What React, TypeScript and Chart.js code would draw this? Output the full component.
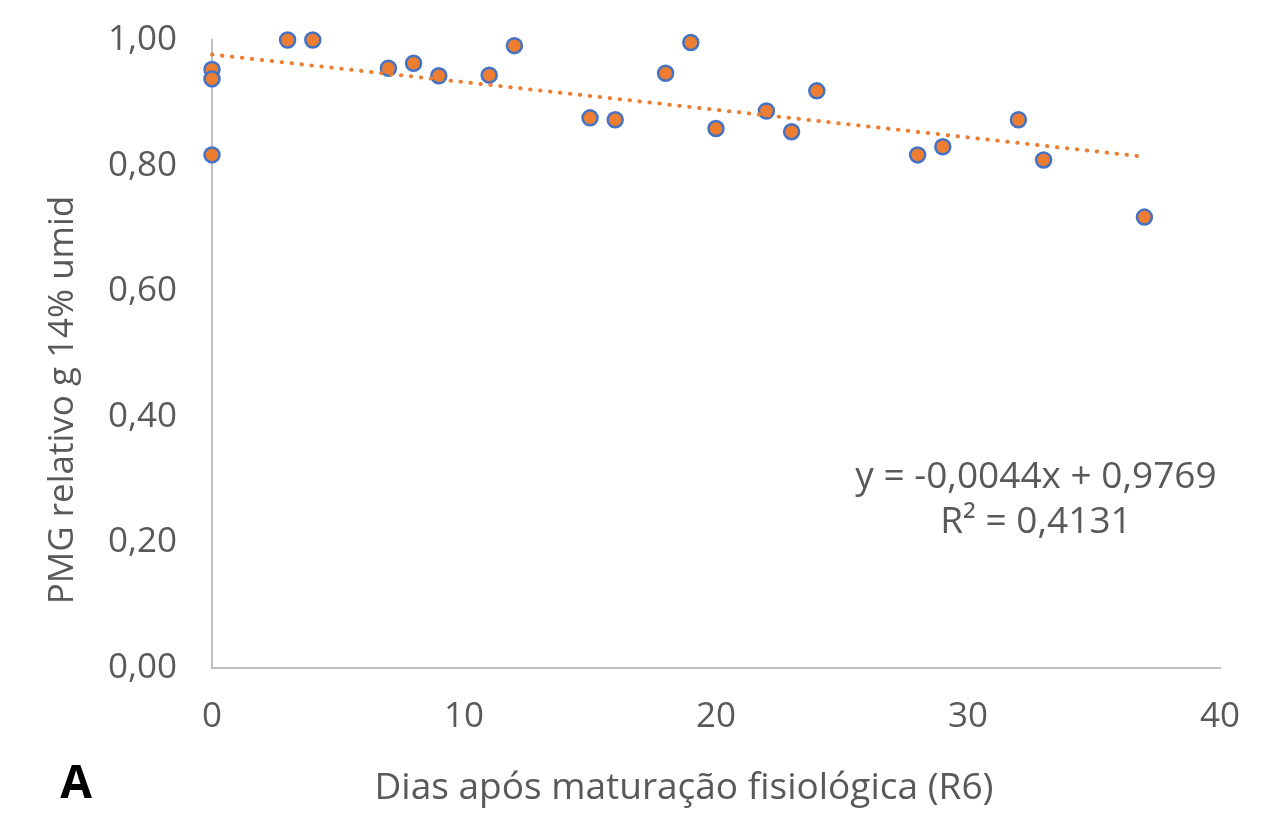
import React, { useEffect, useRef } from "react";
import Chart from "chart.js/auto";

// PMG relativo vs dias após maturação fisiológica (R6), with linear trendline

const dias = [0, 0, 0, 3, 4, 7, 8, 9, 11, 12, 15, 16, 18, 19, 20, 22, 23, 24, 28, 29, 32, 33, 37];
const pmg = [
  0.953, 0.938, 0.817, 1.0, 1.0, 0.955, 0.963, 0.943, 0.944, 0.991, 0.876, 0.873,
  0.947, 0.996, 0.859, 0.887, 0.854, 0.919, 0.817, 0.83, 0.873, 0.809, 0.718,
];

// trendline endpoints (y = -0,0044x + 0,9769)
const trendX = [0, 37];
const trendY = [0.9769, 0.8141];

const equationLines = ["y = -0,0044x + 0,9769", "R² = 0,4131"];
const xTitle = "Dias após maturação fisiológica (R6)";
const yTitle = "PMG relativo g 14% umid";
const panelLabel = "A";

const FONT = "'Open Sans', 'Noto Sans', sans-serif";
const TEXT = "#595959";

export default function App() {
  const canvasRef = useRef<HTMLCanvasElement>(null);
  const chartRef = useRef<Chart | null>(null);

  // plugin: axis titles, equation label and panel letter
  const labelsPlugin = {
    id: "labelsPlugin",
    afterDraw(chart: Chart) {
      const { ctx } = chart;
      ctx.save();
      ctx.fillStyle = TEXT;
      ctx.textBaseline = "alphabetic";
      ctx.textAlign = "center";

      // y title
      ctx.save();
      ctx.translate(73, 400);
      ctx.rotate(-Math.PI / 2);
      ctx.font = `35px ${FONT}`;
      ctx.fillText(yTitle, 0, 0);
      ctx.restore();

      // x title
      ctx.font = `37px ${FONT}`;
      ctx.fillText(xTitle, 684, 799);

      // equation
      ctx.font = `37px ${FONT}`;
      ctx.fillText(equationLines[0], 1036, 488);
      ctx.fillText(equationLines[1], 1036, 533);

      // panel letter
      ctx.fillStyle = "#000";
      ctx.font = `bold 46px ${FONT}`;
      ctx.fillText(panelLabel, 76, 798);
      ctx.restore();
    },
  };

  useEffect(() => {
    if (!canvasRef.current) return;
    const ctx = canvasRef.current.getContext("2d");
    if (!ctx) return;

    if (chartRef.current) {
      chartRef.current.destroy();
      chartRef.current = null;
    }

    chartRef.current = new Chart(ctx, {
      type: "scatter",
      data: {
        datasets: [
          {
            type: "line",
            label: "Tendência",
            data: trendX.map((x, i) => ({ x, y: trendY[i] })),
            borderColor: "#ED7D31",
            borderWidth: 4,
            borderDash: [0.5, 9.5],
            borderCapStyle: "round",
            pointRadius: 0,
            fill: false,
            clip: false,
            order: 0,
          },
          {
            label: "PMG",
            data: dias.map((x, i) => ({ x, y: pmg[i] })),
            backgroundColor: "#ED7D31",
            borderColor: "#4472C4",
            borderWidth: 2.5,
            pointRadius: 7.5,
            pointHoverRadius: 7.5,
            clip: false,
            order: 1,
          },
        ],
      },
      options: {
        responsive: true,
        maintainAspectRatio: false,
        animation: false,
        layout: { padding: { left: 0, top: 40, right: 60, bottom: 0 } },
        plugins: {
          legend: { display: false },
          tooltip: { enabled: false },
        },
        scales: {
          x: {
            type: "linear",
            min: 0,
            max: 40,
            grid: { display: false, drawTicks: false },
            border: { display: true, color: "#BFBFBF", width: 2 },
            ticks: {
              stepSize: 10,
              color: TEXT,
              padding: 28,
              font: { family: FONT, size: 35 },
            },
            afterFit(scale: any) {
              scale.height = 168;
              scale.paddingLeft = 0;
              scale.paddingRight = 0;
            },
          },
          y: {
            min: 0,
            max: 1,
            grid: { display: false, drawTicks: false },
            border: { display: true, color: "#BFBFBF", width: 2 },
            ticks: {
              stepSize: 0.2,
              color: TEXT,
              padding: 35,
              font: { family: FONT, size: 35 },
              callback: (v: any) => Number(v).toFixed(2).replace(".", ","),
            },
            afterFit(scale: any) {
              scale.width = 212;
              scale.paddingTop = 0;
              scale.paddingBottom = 0;
            },
          },
        },
      },
      plugins: [labelsPlugin],
    });

    return () => {
      if (chartRef.current) {
        chartRef.current.destroy();
        chartRef.current = null;
      }
    };
  }, []);

  return (
    <div
      style={{
        position: "absolute",
        left: 0,
        top: 0,
        width: 1280,
        height: 836,
        background: "#fff",
      }}
    >
      <canvas ref={canvasRef} aria-label="PMG relativo g 14% umid" />
    </div>
  );
}
